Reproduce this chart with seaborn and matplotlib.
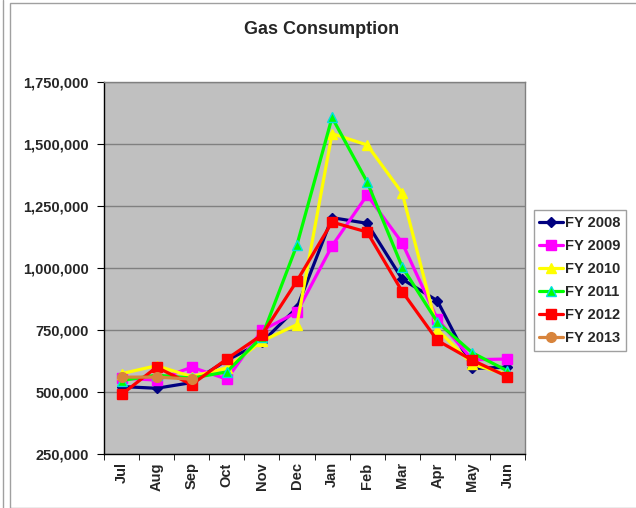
import numpy as np
import pandas as pd
import matplotlib
matplotlib.use('Agg')
import matplotlib.pyplot as plt
import seaborn as sns
from matplotlib.ticker import FuncFormatter, FixedLocator
from matplotlib.patches import Rectangle
from matplotlib.lines import Line2D

months = ['Jul', 'Aug', 'Sep', 'Oct', 'Nov', 'Dec', 'Jan', 'Feb', 'Mar', 'Apr', 'May', 'Jun']

fy2008 = [522000, 515000, 538000, 628000, 700000, 840000, 1203000, 1180000, 955000, 868000, 595000, 600000]
fy2009 = [556000, 548000, 600000, 552000, 748000, 822000, 1089000, 1294000, 1101000, 794000, 630000, 633000]
fy2010 = [574000, 606000, 562000, 597000, 705000, 772000, 1542000, 1496000, 1302000, 752000, 612000, 570000]
fy2011 = [546000, 568000, 556000, 581000, 722000, 1093000, 1607000, 1347000, 1004000, 782000, 658000, 585000]
fy2012 = [490000, 600000, 530000, 633000, 730000, 948000, 1185000, 1145000, 905000, 708000, 628000, 562000]
fy2013 = [560000, 560000, 552000]

series = {'FY 2008': fy2008, 'FY 2009': fy2009, 'FY 2010': fy2010,
          'FY 2011': fy2011, 'FY 2012': fy2012, 'FY 2013': fy2013}

rows = []
for name, vals in series.items():
    for m, v in zip(months, vals):
        rows.append({'Month': m, 'Series': name, 'Therms': v})
df = pd.DataFrame(rows)

colors = {'FY 2008': '#000080', 'FY 2009': '#FF00FF', 'FY 2010': '#FFFF00',
          'FY 2011': '#00FF00', 'FY 2012': '#FF0000', 'FY 2013': '#D8843C'}
markers = {'FY 2008': 'D', 'FY 2009': 's', 'FY 2010': '^',
           'FY 2011': '^', 'FY 2012': 's', 'FY 2013': 'o'}
msizes = {'FY 2008': 5, 'FY 2009': 7, 'FY 2010': 7,
          'FY 2011': 7, 'FY 2012': 7, 'FY 2013': 7}
edges = {'FY 2008': '#000080', 'FY 2009': '#FF00FF', 'FY 2010': '#FFFF00',
         'FY 2011': '#00E0E0', 'FY 2012': '#FF0000', 'FY 2013': '#D8843C'}

sns.set_style('white')
plt.rcParams['font.family'] = ['Liberation Sans', 'DejaVu Sans']

fig = plt.figure(figsize=(6.36, 5.08), dpi=100)
ax = fig.add_axes([0.1635, 0.1063, 0.662, 0.7323])
ax.set_facecolor('#C0C0C0')

for name in series:
    sub = df[df['Series'] == name]
    sns.lineplot(data=sub, x='Month', y='Therms', ax=ax, sort=False,
                 color=colors[name], lw=2.3, marker=markers[name],
                 markersize=msizes[name], markeredgecolor=edges[name],
                 markeredgewidth=1, label=name, zorder=3)

ax.set_xlim(-0.5, 11.5)
ax.set_ylim(250000, 1750000)
ax.set_yticks(np.arange(250000, 1750001, 250000))
ax.yaxis.set_major_formatter(FuncFormatter(lambda v, p: f'{int(v):,}'))
ax.grid(axis='y', color='#808080', lw=1)
ax.set_axisbelow(True)
ax.set_xticks(range(12))
ax.set_xticklabels(months, rotation=90, fontweight='bold', fontsize=10.5)
ax.xaxis.set_minor_locator(FixedLocator(np.arange(-0.5, 12, 1)))
ax.tick_params(axis='x', which='major', length=0, pad=6)
ax.tick_params(axis='x', which='minor', length=4, color='black', bottom=True)
ax.tick_params(axis='y', length=5, color='black', left=True, labelsize=10.5, pad=6)
for lbl in ax.get_yticklabels():
    lbl.set_fontweight('bold')
ax.set_xlabel('')
ax.set_ylabel('')
ax.spines['left'].set_color('black')
ax.spines['bottom'].set_color('black')
ax.spines['top'].set_color('#808080')
ax.spines['right'].set_color('#808080')
for s in ax.spines.values():
    s.set_linewidth(1)

ax.get_legend().remove()
handles, labels = ax.get_legend_handles_labels()
leg = fig.legend(handles, labels, loc='upper left', bbox_to_anchor=(0.839, 0.586),
                 frameon=True, fancybox=False, edgecolor='#A0A0A0', framealpha=1,
                 prop={'weight': 'bold', 'size': 10.5}, handlelength=1.6,
                 handletextpad=0.15, borderpad=0.4, labelspacing=0.62, borderaxespad=0)
leg.get_frame().set_linewidth(1)

fig.text(322 / 636, 1 - 30 / 508, 'Gas Consumption', ha='center', va='center',
         fontsize=13, fontweight='bold')

fig.patches.append(Rectangle((10 / 636, 0), 1, 1 - 3 / 508, transform=fig.transFigure,
                             fill=False, edgecolor='#A0A0A0', lw=1))
fig.lines.append(Line2D([3 / 636, 3 / 636], [0, 1], transform=fig.transFigure,
                        color='#A0A0A0', lw=1))

plt.savefig('out.png', dpi=100)
